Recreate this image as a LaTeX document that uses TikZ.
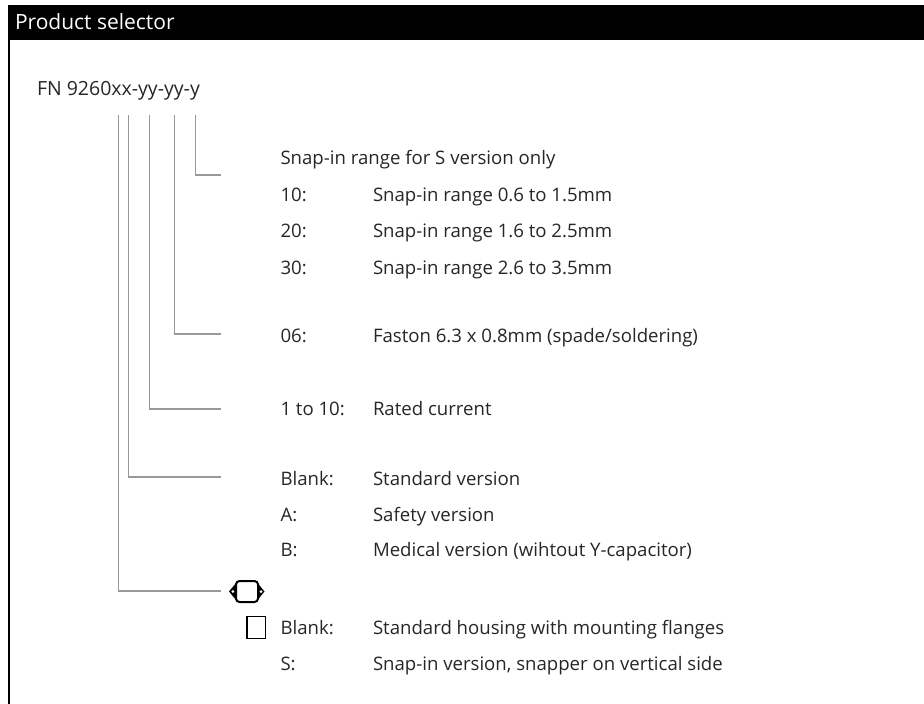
\documentclass[tikz,border=0pt]{standalone}
\usepackage{fontspec}
\setmainfont{Open Sans}
\begin{document}
\begin{tikzpicture}[x=1pt,y=-1pt,
  txt/.style={anchor=base west,inner sep=0pt,outer sep=0pt,text=black!85,font=\fontsize{18.6}{20}\selectfont},
  ttl/.style={anchor=base west,inner sep=0pt,outer sep=0pt,text=black!85,font=\fontsize{19.5}{21}\selectfont},
  hdr/.style={anchor=base west,inner sep=0pt,outer sep=0pt,text=white,font=\fontsize{21}{23}\selectfont},
  conn/.style={draw=black!40,line width=1.3pt}]
\useasboundingbox (0,0) rectangle (924,704);
% frame
\fill[black] (8,5) rectangle (924,40);
\fill[black] (8,40) rectangle (10,704);
\node[hdr] (head) at (15,29) {Product selector};
\node[ttl] (title) at (37,95) {FN 9260xx-yy-yy-y};

% connector tops
\coordinate (t1) at (118.3,115);
\coordinate (t2) at (128.3,115);
\coordinate (t3) at (149.3,115);
\coordinate (t4) at (174.7,115);
\coordinate (t5) at (195.7,115);
% connector ends
\coordinate (e5) at (221,175);
\coordinate (e4) at (221,334);
\coordinate (e3) at (221,409);
\coordinate (e2) at (221,477);
\coordinate (e1) at (221,591);

\draw[conn] (t5) |- (e5);
\draw[conn] (t4) |- (e4);
\draw[conn] (t3) |- (e3);
\draw[conn] (t2) |- (e2);
\draw[conn] (t1) |- (e1);

% texts
\node[txt] (snap) at (280.5,164) {Snap-in range for S version only};
\node[txt] (k10) at (280.5,201) {10:};
\node[txt] (v10) at (373,201) {Snap-in range 0.6 to 1.5mm};
\node[txt] (k20) at (280.5,237) {20:};
\node[txt] (v20) at (373,237) {Snap-in range 1.6 to 2.5mm};
\node[txt] (k30) at (280.5,274) {30:};
\node[txt] (v30) at (373,274) {Snap-in range 2.6 to 3.5mm};
\node[txt] (k06) at (280.5,342) {06:};
\node[txt] (v06) at (373,342) {Faston 6.3 x 0.8mm (spade/soldering)};
\node[txt] (kcur) at (280.5,415) {1 to 10:};
\node[txt] (vcur) at (373,415) {Rated current};
\node[txt] (kbl) at (280.5,485) {Blank:};
\node[txt] (vbl) at (373,485) {Standard version};
\node[txt] (kA) at (280.5,521) {A:};
\node[txt] (vA) at (373,521) {Safety version};
\node[txt] (kB) at (280.5,556) {B:};
\node[txt] (vB) at (373,556) {Medical version (wihtout Y-capacitor)};
\node[txt] (kbl2) at (280.5,634) {Blank:};
\node[txt] (vbl2) at (373,634) {Standard housing with mounting flanges};
\node[txt] (kS) at (280.5,670) {S:};
\node[txt] (vS) at (373,670) {Snap-in version, snapper on vertical side};

% housing icon with flanges
\fill[black] (236,583) -- (229,591.5) -- (236,600) -- cycle;
\fill[black] (257.5,583) -- (264.5,591.5) -- (257.5,600) -- cycle;
\draw[black,line width=2pt,fill=white,rounded corners=3.5pt] (236,581) rectangle (258,602);
\fill[white] (232.8,591.5) circle (1.5);
\fill[white] (261,591.5) circle (1.5);
% square icon
\draw[black,line width=1.4pt] (247,616.5) rectangle (265.5,638.5);
\end{tikzpicture}
\end{document}
